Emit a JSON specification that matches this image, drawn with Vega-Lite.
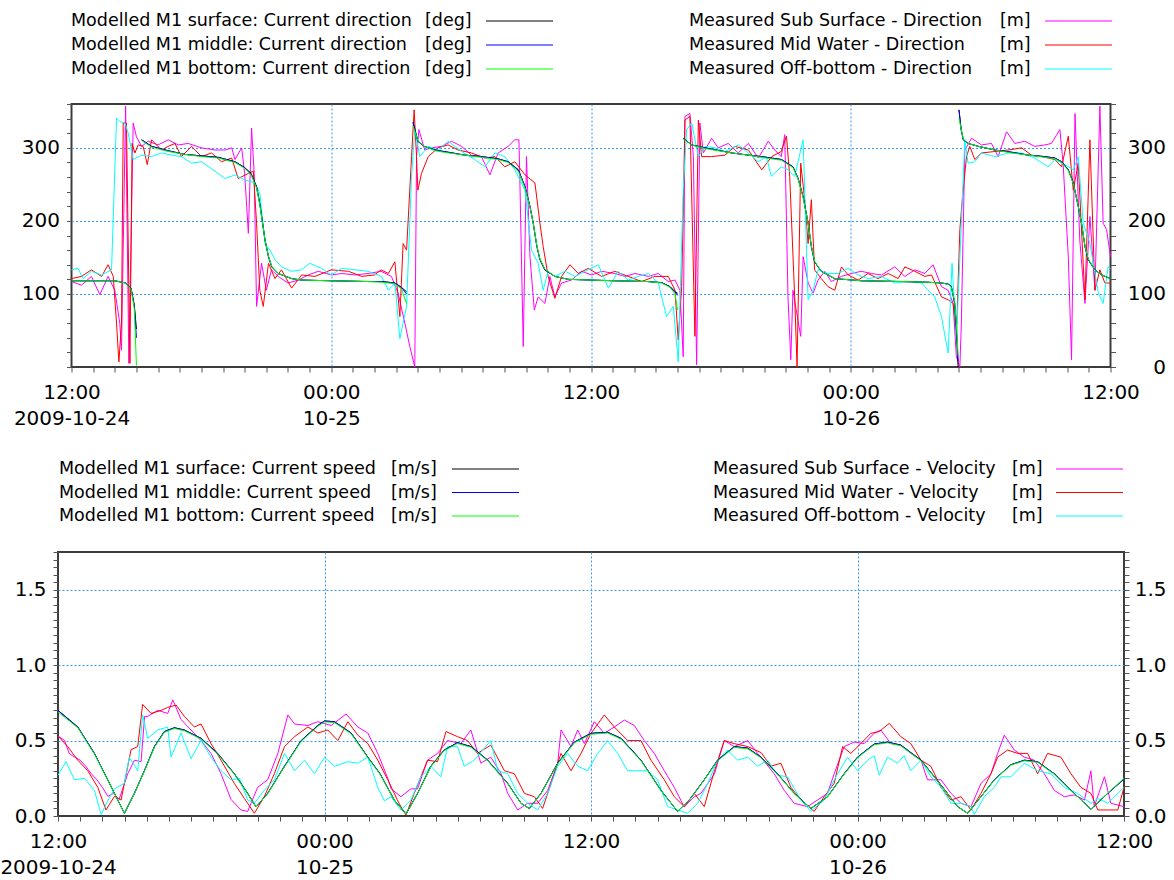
{
"$schema": "https://vega.github.io/schema/vega-lite/v6.json",
"padding": {"left": -2, "top": 0, "right": 0, "bottom": 0},
"background": "white",
"spacing": 25,
"bounds": "flush",
"center": true,
"resolve": {"scale": {"x": "independent", "y": "independent", "color": "independent"}},
"config": {
  "view": {"stroke": "#3c3c3c", "strokeWidth": 2},
  "axis": {"labelFont": "DejaVu Sans", "labelFontSize": 20, "labelColor": "#000000", "tickColor": "#555555", "tickSize": 5, "domain": false, "labelFlush": false, "labelOverlap": false, "labelBound": false, "gridColor": "#3399ff", "gridDash": [2, 2], "gridWidth": 1},
  "line": {"strokeWidth": 1}
},
"datasets": {
  "legDir": [
    {"c": "L", "r": 1, "s": "K", "t": "Modelled M1 surface: Current direction", "u": "[deg]"},
    {"c": "L", "r": 2, "s": "B", "t": "Modelled M1 middle: Current direction", "u": "[deg]"},
    {"c": "L", "r": 3, "s": "G", "t": "Modelled M1 bottom: Current direction", "u": "[deg]"},
    {"c": "R", "r": 1, "s": "M", "t": "Measured Sub Surface - Direction", "u": "[m]"},
    {"c": "R", "r": 2, "s": "R", "t": "Measured Mid Water - Direction", "u": "[m]"},
    {"c": "R", "r": 3, "s": "C", "t": "Measured Off-bottom - Direction", "u": "[m]"}
  ],
  "legSpd": [
    {"c": "L", "r": 1, "s": "K", "t": "Modelled M1 surface: Current speed", "u": "[m/s]"},
    {"c": "L", "r": 2, "s": "B", "t": "Modelled M1 middle: Current speed", "u": "[m/s]"},
    {"c": "L", "r": 3, "s": "G", "t": "Modelled M1 bottom: Current speed", "u": "[m/s]"},
    {"c": "R", "r": 1, "s": "M", "t": "Measured Sub Surface - Velocity", "u": "[m]"},
    {"c": "R", "r": 2, "s": "R", "t": "Measured Mid Water - Velocity", "u": "[m]"},
    {"c": "R", "r": 3, "s": "C", "t": "Measured Off-bottom - Velocity", "u": "[m]"}
  ],
  "dirMod": [
    {"h":0,"K":118,"B":118,"G":118},{"h":1,"K":118,"B":118,"G":118},{"h":2,"K":118,"B":118,"G":118},{"h":2.5,"K":115,"B":115,"G":115},{"h":2.75,"K":108,"B":108,"G":107},{"h":2.9,"K":85,"B":84,"G":80},{"h":3.0,"K":52,"B":40,"G":2},
    {"h":3.1,"K":null,"B":null,"G":null},
    {"h":3.24,"K":311,"B":311,"G":310},{"h":3.7,"K":302,"B":302,"G":301},{"h":4.47,"K":296,"B":296,"G":295},{"h":5.24,"K":291,"B":291,"G":291},{"h":6.0,"K":289,"B":289,"G":288},{"h":6.78,"K":287,"B":287,"G":286},{"h":7.55,"K":281,"B":281,"G":280},{"h":8.0,"K":273,"B":273,"G":272},{"h":8.3,"K":265,"B":264,"G":263},{"h":8.55,"K":247,"B":246,"G":245},{"h":8.7,"K":224,"B":223,"G":222},{"h":8.83,"K":197,"B":196,"G":196},{"h":8.94,"K":174,"B":174,"G":174},{"h":9.1,"K":151,"B":151,"G":152},{"h":9.25,"K":137,"B":137,"G":138},{"h":9.55,"K":128,"B":128,"G":128},{"h":10.17,"K":121,"B":121,"G":121},{"h":10.63,"K":119,"B":119,"G":119},{"h":12,"K":118,"B":118,"G":118},{"h":13.7,"K":117,"B":117,"G":117},{"h":14.32,"K":117,"B":117,"G":116},{"h":14.94,"K":115,"B":115,"G":114},{"h":15.24,"K":109,"B":109,"G":107},{"h":15.48,"K":103,"B":100,"G":87},
    {"h":15.6,"K":null,"B":null,"G":null},
    {"h":15.78,"K":335,"B":335,"G":330},{"h":16.0,"K":309,"B":309,"G":310},{"h":16.3,"K":302,"B":302,"G":302},{"h":16.8,"K":297,"B":297,"G":296},{"h":17.4,"K":294,"B":294,"G":293},{"h":18.17,"K":290,"B":290,"G":290},{"h":18.94,"K":288,"B":288,"G":287},{"h":19.7,"K":285,"B":285,"G":284},{"h":20.17,"K":281,"B":281,"G":280},{"h":20.64,"K":270,"B":270,"G":268},{"h":20.95,"K":247,"B":247,"G":245},{"h":21.18,"K":220,"B":220,"G":219},{"h":21.33,"K":197,"B":197,"G":197},{"h":21.5,"K":165,"B":165,"G":166},{"h":21.64,"K":147,"B":147,"G":148},{"h":21.87,"K":133,"B":133,"G":134},{"h":22.33,"K":124,"B":124,"G":124},{"h":22.95,"K":120,"B":120,"G":120},{"h":24,"K":119,"B":119,"G":119},{"h":25.1,"K":118,"B":118,"G":118},{"h":26.6,"K":117,"B":117,"G":117},{"h":27.26,"K":115.5,"B":115.5,"G":115},{"h":27.65,"K":110,"B":110,"G":109},{"h":27.88,"K":103,"B":103,"G":100},{"h":28.0,"K":101,"B":98,"G":78},
    {"h":28.1,"K":null,"B":null,"G":null},
    {"h":28.26,"K":313,"B":313,"G":312},{"h":28.65,"K":304,"B":304,"G":304},{"h":29.27,"K":300,"B":300,"G":299},{"h":30.5,"K":293,"B":293,"G":293},{"h":31.27,"K":290,"B":290,"G":290},{"h":31.87,"K":288,"B":288,"G":287},{"h":32.8,"K":284,"B":284,"G":283},{"h":33.33,"K":274,"B":274,"G":273},{"h":33.57,"K":258,"B":258,"G":257},{"h":33.8,"K":233,"B":233,"G":232},{"h":34.03,"K":197,"B":197,"G":197},{"h":34.18,"K":165,"B":165,"G":166},{"h":34.33,"K":144,"B":144,"G":145},{"h":34.64,"K":131,"B":131,"G":131},{"h":35.26,"K":121,"B":121,"G":121},{"h":36.5,"K":118,"B":118,"G":118},{"h":38.34,"K":117,"B":117,"G":117},{"h":39.57,"K":116,"B":116,"G":116},{"h":40.2,"K":115,"B":115,"G":115},{"h":40.5,"K":113.5,"B":113.5,"G":113},{"h":40.65,"K":110,"B":110,"G":109},{"h":40.8,"K":87,"B":88,"G":90},{"h":40.88,"K":51,"B":55,"G":60},{"h":40.96,"K":0,"B":8,"G":15},
    {"h":40.98,"K":null,"B":null,"G":null},
    {"h":41.0,"K":352,"B":352,"G":340},{"h":41.1,"K":325,"B":325,"G":326},{"h":41.2,"K":311,"B":311,"G":312},{"h":41.42,"K":306,"B":306,"G":306},{"h":41.9,"K":302,"B":302,"G":302},{"h":42.66,"K":297,"B":297,"G":297},{"h":43.43,"K":294,"B":294,"G":293},{"h":44.2,"K":290,"B":290,"G":290},{"h":44.97,"K":288,"B":288,"G":287},{"h":45.43,"K":286,"B":286,"G":285},{"h":45.74,"K":281,"B":281,"G":280},{"h":46.05,"K":270,"B":270,"G":269},{"h":46.28,"K":252,"B":252,"G":251},{"h":46.51,"K":220,"B":220,"G":220},{"h":46.66,"K":197,"B":197,"G":197},{"h":46.82,"K":165,"B":165,"G":166},{"h":46.97,"K":147,"B":147,"G":148},{"h":47.28,"K":133,"B":133,"G":133},{"h":47.59,"K":126,"B":126,"G":126},{"h":48,"K":121,"B":121,"G":121}
  ],
  "dirM": [
    {"h":0,"v":117},{"h":0.46,"v":112},{"h":0.92,"v":124},{"h":1.31,"v":99},{"h":1.69,"v":124},{"h":2.0,"v":105},{"h":2.23,"v":60},{"h":2.31,"v":23},{"h":2.5,"v":357},{"h":2.65,"v":5},{"h":2.85,"v":334},{"h":3.0,"v":315},{"h":3.24,"v":302},{"h":3.54,"v":309},{"h":4.0,"v":304},{"h":4.47,"v":311},{"h":4.93,"v":304},{"h":5.39,"v":306},{"h":6.0,"v":300},{"h":6.63,"v":297},{"h":7.1,"v":297},{"h":7.4,"v":300},{"h":7.55,"v":284},{"h":7.86,"v":300},{"h":8.0,"v":265},{"h":8.17,"v":183},{"h":8.32,"v":327},{"h":8.44,"v":265},{"h":8.55,"v":83},{"h":8.78,"v":142},{"h":9.0,"v":105},{"h":9.24,"v":133},{"h":9.55,"v":124},{"h":10.0,"v":115},{"h":10.48,"v":119},{"h":10.94,"v":126},{"h":11.4,"v":131},{"h":12.0,"v":126},{"h":12.48,"v":128},{"h":13.1,"v":126},{"h":13.7,"v":128},{"h":14.3,"v":131},{"h":14.78,"v":124},{"h":15.09,"v":101},{"h":15.4,"v":60},{"h":15.63,"v":28},{"h":15.86,"v":0},{"h":15.94,"v":288},{"h":16.05,"v":325},{"h":16.32,"v":297},{"h":16.63,"v":300},{"h":17.1,"v":302},{"h":17.56,"v":309},{"h":18.02,"v":302},{"h":18.48,"v":290},{"h":18.94,"v":288},{"h":19.33,"v":263},{"h":19.71,"v":293},{"h":20.17,"v":302},{"h":20.48,"v":311},{"h":20.67,"v":311},{"h":20.71,"v":261},{"h":20.87,"v":28},{"h":21.02,"v":288},{"h":21.18,"v":151},{"h":21.38,"v":78},{"h":21.56,"v":96},{"h":21.87,"v":87},{"h":22.1,"v":124},{"h":22.33,"v":96},{"h":22.64,"v":115},{"h":23.1,"v":119},{"h":23.56,"v":131},{"h":24.03,"v":126},{"h":24.49,"v":131},{"h":25.1,"v":128},{"h":25.57,"v":124},{"h":26.03,"v":128},{"h":26.65,"v":124},{"h":27.11,"v":128},{"h":27.57,"v":117},{"h":27.88,"v":119},{"h":28.11,"v":105},{"h":28.26,"v":14},{"h":28.34,"v":343},{"h":28.57,"v":347},{"h":28.73,"v":288},{"h":28.88,"v":3},{"h":29.03,"v":334},{"h":29.19,"v":293},{"h":29.57,"v":313},{"h":29.88,"v":300},{"h":30.34,"v":306},{"h":30.8,"v":293},{"h":31.27,"v":306},{"h":31.73,"v":286},{"h":32.19,"v":309},{"h":32.49,"v":297},{"h":32.79,"v":288},{"h":32.95,"v":318},{"h":33.1,"v":96},{"h":33.23,"v":10},{"h":33.33,"v":105},{"h":33.56,"v":64},{"h":33.69,"v":42},{"h":33.8,"v":151},{"h":34.03,"v":115},{"h":34.26,"v":101},{"h":34.49,"v":119},{"h":34.8,"v":131},{"h":35.1,"v":117},{"h":35.57,"v":124},{"h":36.03,"v":128},{"h":36.49,"v":131},{"h":36.95,"v":128},{"h":37.42,"v":126},{"h":38.03,"v":137},{"h":38.5,"v":124},{"h":38.96,"v":133},{"h":39.42,"v":128},{"h":39.8,"v":140},{"h":40.19,"v":110},{"h":40.5,"v":105},{"h":40.73,"v":87},{"h":40.88,"v":14},{"h":41.04,"v":0},{"h":41.11,"v":60},{"h":41.27,"v":297},{"h":41.58,"v":313},{"h":42.04,"v":304},{"h":42.5,"v":306},{"h":42.81,"v":288},{"h":43.2,"v":322},{"h":43.58,"v":306},{"h":44.04,"v":309},{"h":44.5,"v":302},{"h":44.97,"v":304},{"h":45.27,"v":306},{"h":45.66,"v":325},{"h":45.81,"v":279},{"h":46.05,"v":151},{"h":46.2,"v":10},{"h":46.36,"v":347},{"h":46.58,"v":174},{"h":46.82,"v":87},{"h":47.05,"v":206},{"h":47.28,"v":105},{"h":47.51,"v":357},{"h":47.66,"v":197},{"h":47.82,"v":188},{"h":48.0,"v":151}
  ],
  "dirR": [
    {"h":0,"v":121},{"h":0.46,"v":124},{"h":0.92,"v":133},{"h":1.39,"v":124},{"h":1.69,"v":140},{"h":1.93,"v":124},{"h":2.08,"v":60},{"h":2.19,"v":7},{"h":2.31,"v":60},{"h":2.39,"v":334},{"h":2.54,"v":334},{"h":2.7,"v":5},{"h":2.8,"v":306},{"h":2.93,"v":293},{"h":3.08,"v":304},{"h":3.31,"v":302},{"h":3.5,"v":277},{"h":3.7,"v":311},{"h":4.16,"v":297},{"h":4.47,"v":302},{"h":4.78,"v":306},{"h":5.08,"v":288},{"h":5.55,"v":302},{"h":6.0,"v":288},{"h":6.47,"v":293},{"h":6.93,"v":281},{"h":7.4,"v":286},{"h":7.7,"v":258},{"h":8.17,"v":265},{"h":8.4,"v":268},{"h":8.55,"v":197},{"h":8.7,"v":105},{"h":8.86,"v":83},{"h":9.1,"v":142},{"h":9.4,"v":121},{"h":9.7,"v":133},{"h":10.17,"v":108},{"h":10.63,"v":126},{"h":11.25,"v":124},{"h":12.0,"v":133},{"h":12.8,"v":131},{"h":13.4,"v":124},{"h":14.0,"v":126},{"h":14.3,"v":133},{"h":14.64,"v":128},{"h":14.94,"v":144},{"h":15.17,"v":69},{"h":15.32,"v":169},{"h":15.48,"v":160},{"h":15.71,"v":288},{"h":15.83,"v":352},{"h":15.94,"v":288},{"h":16.0,"v":242},{"h":16.17,"v":265},{"h":16.48,"v":288},{"h":16.94,"v":300},{"h":17.4,"v":304},{"h":17.86,"v":297},{"h":18.48,"v":293},{"h":19.1,"v":286},{"h":19.56,"v":288},{"h":20.02,"v":274},{"h":20.48,"v":281},{"h":20.95,"v":263},{"h":21.41,"v":252},{"h":21.64,"v":197},{"h":21.79,"v":165},{"h":22.02,"v":124},{"h":22.33,"v":94},{"h":22.64,"v":124},{"h":23.03,"v":140},{"h":23.41,"v":128},{"h":23.87,"v":135},{"h":24.49,"v":124},{"h":25.1,"v":131},{"h":25.72,"v":124},{"h":26.34,"v":117},{"h":26.95,"v":124},{"h":27.57,"v":124},{"h":27.88,"v":105},{"h":28.03,"v":37},{"h":28.19,"v":110},{"h":28.34,"v":338},{"h":28.57,"v":343},{"h":28.8,"v":42},{"h":28.96,"v":338},{"h":29.11,"v":288},{"h":29.57,"v":288},{"h":30.19,"v":290},{"h":30.65,"v":302},{"h":31.27,"v":297},{"h":31.89,"v":270},{"h":32.35,"v":288},{"h":32.79,"v":295},{"h":33.03,"v":316},{"h":33.18,"v":261},{"h":33.41,"v":96},{"h":33.52,"v":0},{"h":33.69,"v":279},{"h":33.87,"v":229},{"h":34.03,"v":169},{"h":34.18,"v":229},{"h":34.33,"v":133},{"h":34.64,"v":121},{"h":34.95,"v":110},{"h":35.26,"v":105},{"h":35.57,"v":137},{"h":35.88,"v":126},{"h":36.34,"v":119},{"h":36.8,"v":128},{"h":37.26,"v":121},{"h":37.73,"v":128},{"h":38.19,"v":121},{"h":38.5,"v":137},{"h":38.96,"v":131},{"h":39.42,"v":124},{"h":39.73,"v":126},{"h":40.19,"v":96},{"h":40.5,"v":92},{"h":40.73,"v":87},{"h":40.88,"v":42},{"h":41.04,"v":188},{"h":41.19,"v":242},{"h":41.35,"v":288},{"h":41.5,"v":302},{"h":41.73,"v":284},{"h":42.04,"v":293},{"h":42.66,"v":295},{"h":43.27,"v":297},{"h":43.89,"v":300},{"h":44.35,"v":290},{"h":44.81,"v":288},{"h":45.43,"v":284},{"h":45.74,"v":274},{"h":46.05,"v":316},{"h":46.28,"v":242},{"h":46.51,"v":279},{"h":46.82,"v":92},{"h":47.05,"v":311},{"h":47.28,"v":105},{"h":47.51,"v":133},{"h":47.74,"v":115},{"h":48.0,"v":115}
  ],
  "dirC": [
    {"h":0,"v":133},{"h":0.3,"v":135},{"h":0.54,"v":121},{"h":0.92,"v":131},{"h":1.39,"v":126},{"h":1.85,"v":133},{"h":2.08,"v":341},{"h":2.23,"v":336},{"h":2.47,"v":334},{"h":2.62,"v":320},{"h":2.85,"v":284},{"h":3.24,"v":290},{"h":3.7,"v":288},{"h":4.16,"v":293},{"h":4.62,"v":290},{"h":5.08,"v":288},{"h":5.55,"v":279},{"h":6.0,"v":281},{"h":6.63,"v":268},{"h":7.1,"v":258},{"h":7.55,"v":263},{"h":8.0,"v":256},{"h":8.47,"v":252},{"h":8.7,"v":238},{"h":8.94,"v":169},{"h":9.17,"v":160},{"h":9.4,"v":147},{"h":9.7,"v":137},{"h":10.17,"v":131},{"h":10.63,"v":133},{"h":11.0,"v":142},{"h":11.55,"v":135},{"h":12.0,"v":126},{"h":12.48,"v":135},{"h":13.1,"v":133},{"h":13.7,"v":131},{"h":14.32,"v":124},{"h":14.64,"v":105},{"h":14.94,"v":115},{"h":15.17,"v":39},{"h":15.48,"v":83},{"h":15.71,"v":261},{"h":15.86,"v":325},{"h":16.09,"v":288},{"h":16.48,"v":302},{"h":16.94,"v":297},{"h":17.4,"v":309},{"h":18.02,"v":295},{"h":18.63,"v":284},{"h":19.1,"v":274},{"h":19.56,"v":293},{"h":20.02,"v":288},{"h":20.48,"v":270},{"h":20.95,"v":242},{"h":21.25,"v":160},{"h":21.56,"v":142},{"h":21.79,"v":105},{"h":22.02,"v":131},{"h":22.33,"v":124},{"h":22.8,"v":131},{"h":23.26,"v":124},{"h":23.87,"v":133},{"h":24.34,"v":140},{"h":24.8,"v":108},{"h":25.26,"v":131},{"h":25.72,"v":119},{"h":26.19,"v":124},{"h":26.65,"v":128},{"h":27.11,"v":115},{"h":27.49,"v":69},{"h":27.8,"v":83},{"h":28.03,"v":7},{"h":28.26,"v":242},{"h":28.42,"v":325},{"h":28.65,"v":334},{"h":28.96,"v":288},{"h":29.27,"v":302},{"h":29.73,"v":300},{"h":30.19,"v":295},{"h":30.8,"v":304},{"h":31.27,"v":293},{"h":31.73,"v":281},{"h":32.1,"v":288},{"h":32.33,"v":261},{"h":32.79,"v":274},{"h":33.1,"v":270},{"h":33.41,"v":261},{"h":33.8,"v":311},{"h":34.03,"v":92},{"h":34.26,"v":105},{"h":34.49,"v":133},{"h":34.95,"v":128},{"h":35.41,"v":128},{"h":35.88,"v":135},{"h":36.34,"v":126},{"h":36.8,"v":121},{"h":37.42,"v":124},{"h":38.03,"v":115},{"h":38.65,"v":117},{"h":39.27,"v":115},{"h":39.57,"v":105},{"h":39.88,"v":96},{"h":40.19,"v":69},{"h":40.5,"v":19},{"h":40.68,"v":142},{"h":40.88,"v":37},{"h":41.11,"v":197},{"h":41.27,"v":311},{"h":41.42,"v":279},{"h":41.73,"v":281},{"h":42.04,"v":293},{"h":42.66,"v":288},{"h":43.27,"v":293},{"h":43.89,"v":293},{"h":44.5,"v":286},{"h":45.12,"v":274},{"h":45.43,"v":284},{"h":45.89,"v":277},{"h":46.28,"v":270},{"h":46.51,"v":288},{"h":46.74,"v":197},{"h":47.05,"v":169},{"h":47.44,"v":101},{"h":47.66,"v":87},{"h":47.89,"v":137},{"h":48.0,"v":135}
  ],
  "spdMod": [
    {"h":0,"K":0.70,"B":0.70,"G":0.69},{"h":0.89,"K":0.59,"B":0.59,"G":0.585},{"h":1.64,"K":0.415,"B":0.415,"G":0.41},{"h":2.24,"K":0.24,"B":0.24,"G":0.238},{"h":2.69,"K":0.106,"B":0.106,"G":0.105},{"h":2.99,"K":0.018,"B":0.018,"G":0.018},{"h":3.44,"K":0.15,"B":0.15,"G":0.148},{"h":3.89,"K":0.30,"B":0.30,"G":0.297},{"h":4.34,"K":0.46,"B":0.46,"G":0.455},{"h":4.79,"K":0.56,"B":0.56,"G":0.555},{"h":5.24,"K":0.585,"B":0.585,"G":0.58},{"h":5.69,"K":0.57,"B":0.57,"G":0.565},{"h":6.44,"K":0.515,"B":0.515,"G":0.51},{"h":7.19,"K":0.415,"B":0.415,"G":0.41},{"h":7.94,"K":0.28,"B":0.28,"G":0.277},{"h":8.54,"K":0.15,"B":0.15,"G":0.148},{"h":8.92,"K":0.06,"B":0.06,"G":0.06},{"h":9.44,"K":0.15,"B":0.15,"G":0.148},{"h":10.2,"K":0.33,"B":0.33,"G":0.327},{"h":10.95,"K":0.50,"B":0.50,"G":0.495},{"h":11.7,"K":0.60,"B":0.60,"G":0.595},{"h":12.0,"K":0.63,"B":0.63,"G":0.624},{"h":12.45,"K":0.625,"B":0.625,"G":0.619},{"h":13.2,"K":0.55,"B":0.55,"G":0.545},{"h":13.95,"K":0.39,"B":0.39,"G":0.386},{"h":14.5,"K":0.28,"B":0.28,"G":0.277},{"h":15.14,"K":0.106,"B":0.106,"G":0.105},{"h":15.67,"K":0.013,"B":0.013,"G":0.013},{"h":16.19,"K":0.15,"B":0.15,"G":0.148},{"h":16.79,"K":0.33,"B":0.33,"G":0.327},{"h":17.39,"K":0.437,"B":0.437,"G":0.433},{"h":17.99,"K":0.486,"B":0.486,"G":0.481},{"h":18.6,"K":0.46,"B":0.46,"G":0.455},{"h":19.35,"K":0.37,"B":0.37,"G":0.366},{"h":20.25,"K":0.216,"B":0.216,"G":0.214},{"h":20.85,"K":0.084,"B":0.084,"G":0.083},{"h":21.22,"K":0.05,"B":0.05,"G":0.05},{"h":21.75,"K":0.15,"B":0.15,"G":0.148},{"h":22.5,"K":0.35,"B":0.35,"G":0.346},{"h":23.25,"K":0.49,"B":0.49,"G":0.485},{"h":24.0,"K":0.548,"B":0.548,"G":0.542},{"h":24.75,"K":0.555,"B":0.555,"G":0.55},{"h":25.35,"K":0.515,"B":0.515,"G":0.51},{"h":26.25,"K":0.37,"B":0.37,"G":0.366},{"h":27.15,"K":0.17,"B":0.17,"G":0.168},{"h":27.9,"K":0.03,"B":0.03,"G":0.03},{"h":28.45,"K":0.11,"B":0.11,"G":0.109},{"h":29.1,"K":0.24,"B":0.24,"G":0.238},{"h":29.7,"K":0.37,"B":0.37,"G":0.366},{"h":30.45,"K":0.46,"B":0.46,"G":0.455},{"h":31.06,"K":0.45,"B":0.45,"G":0.445},{"h":31.65,"K":0.39,"B":0.39,"G":0.386},{"h":32.4,"K":0.28,"B":0.28,"G":0.277},{"h":33.15,"K":0.15,"B":0.15,"G":0.148},{"h":33.9,"K":0.05,"B":0.05,"G":0.05},{"h":34.65,"K":0.128,"B":0.128,"G":0.127},{"h":35.4,"K":0.28,"B":0.28,"G":0.277},{"h":36.0,"K":0.39,"B":0.39,"G":0.386},{"h":36.75,"K":0.477,"B":0.477,"G":0.472},{"h":37.35,"K":0.49,"B":0.49,"G":0.485},{"h":37.95,"K":0.47,"B":0.47,"G":0.465},{"h":38.86,"K":0.37,"B":0.37,"G":0.366},{"h":39.76,"K":0.205,"B":0.205,"G":0.203},{"h":40.51,"K":0.062,"B":0.062,"G":0.062},{"h":40.96,"K":0.018,"B":0.018,"G":0.018},{"h":41.56,"K":0.128,"B":0.128,"G":0.127},{"h":42.16,"K":0.24,"B":0.24,"G":0.238},{"h":42.91,"K":0.34,"B":0.34,"G":0.337},{"h":43.51,"K":0.37,"B":0.37,"G":0.366},{"h":44.11,"K":0.36,"B":0.36,"G":0.356},{"h":44.86,"K":0.28,"B":0.28,"G":0.277},{"h":45.76,"K":0.15,"B":0.15,"G":0.148},{"h":46.51,"K":0.045,"B":0.045,"G":0.045},{"h":47.27,"K":0.15,"B":0.15,"G":0.152},{"h":48.0,"K":0.245,"B":0.245,"G":0.25}
  ],
  "spdM": [
    {"h":0,"v":0.53},{"h":0.3,"v":0.5},{"h":0.5,"v":0.415},{"h":0.75,"v":0.39},{"h":1.0,"v":0.37},{"h":1.25,"v":0.33},{"h":1.5,"v":0.28},{"h":1.75,"v":0.24},{"h":2.0,"v":0.19},{"h":2.25,"v":0.13},{"h":2.5,"v":0.15},{"h":2.75,"v":0.11},{"h":3.14,"v":0.28},{"h":3.44,"v":0.37},{"h":3.74,"v":0.36},{"h":3.9,"v":0.66},{"h":4.04,"v":0.66},{"h":4.49,"v":0.7},{"h":4.94,"v":0.68},{"h":5.17,"v":0.77},{"h":5.54,"v":0.64},{"h":5.99,"v":0.57},{"h":6.44,"v":0.5},{"h":6.89,"v":0.415},{"h":7.34,"v":0.28},{"h":7.79,"v":0.11},{"h":8.24,"v":0.04},{"h":8.54,"v":0.03},{"h":8.99,"v":0.19},{"h":9.44,"v":0.24},{"h":9.9,"v":0.415},{"h":10.35,"v":0.67},{"h":10.65,"v":0.61},{"h":11.25,"v":0.6},{"h":11.7,"v":0.625},{"h":12.3,"v":0.6},{"h":12.97,"v":0.676},{"h":13.5,"v":0.59},{"h":13.95,"v":0.55},{"h":14.4,"v":0.415},{"h":14.85,"v":0.25},{"h":15.0,"v":0.18},{"h":15.44,"v":0.128},{"h":15.89,"v":0.18},{"h":16.19,"v":0.18},{"h":16.64,"v":0.37},{"h":17.09,"v":0.415},{"h":17.54,"v":0.5},{"h":18.14,"v":0.48},{"h":18.59,"v":0.57},{"h":19.04,"v":0.35},{"h":19.49,"v":0.39},{"h":19.95,"v":0.28},{"h":20.25,"v":0.15},{"h":20.7,"v":0.04},{"h":21.15,"v":0.084},{"h":21.6,"v":0.084},{"h":22.05,"v":0.17},{"h":22.5,"v":0.35},{"h":22.65,"v":0.57},{"h":23.1,"v":0.46},{"h":23.4,"v":0.57},{"h":23.7,"v":0.48},{"h":24.15,"v":0.625},{"h":24.6,"v":0.548},{"h":25.05,"v":0.59},{"h":25.5,"v":0.636},{"h":25.95,"v":0.6},{"h":26.4,"v":0.5},{"h":26.85,"v":0.415},{"h":27.3,"v":0.3},{"h":27.75,"v":0.19},{"h":28.2,"v":0.06},{"h":28.65,"v":0.128},{"h":28.95,"v":0.15},{"h":29.56,"v":0.28},{"h":30.0,"v":0.5},{"h":30.45,"v":0.46},{"h":31.06,"v":0.5},{"h":31.5,"v":0.415},{"h":32.25,"v":0.28},{"h":32.7,"v":0.17},{"h":33.15,"v":0.084},{"h":33.75,"v":0.062},{"h":34.2,"v":0.106},{"h":34.65,"v":0.15},{"h":34.95,"v":0.28},{"h":35.4,"v":0.46},{"h":35.85,"v":0.49},{"h":36.3,"v":0.48},{"h":36.75,"v":0.548},{"h":37.05,"v":0.57},{"h":37.5,"v":0.48},{"h":37.95,"v":0.47},{"h":38.4,"v":0.415},{"h":38.86,"v":0.37},{"h":39.15,"v":0.24},{"h":39.76,"v":0.24},{"h":40.21,"v":0.15},{"h":40.66,"v":0.084},{"h":41.11,"v":0.062},{"h":41.56,"v":0.216},{"h":42.01,"v":0.28},{"h":42.31,"v":0.415},{"h":42.61,"v":0.536},{"h":43.06,"v":0.437},{"h":43.51,"v":0.39},{"h":43.96,"v":0.37},{"h":44.41,"v":0.28},{"h":44.86,"v":0.17},{"h":45.31,"v":0.128},{"h":45.76,"v":0.14},{"h":46.22,"v":0.106},{"h":46.51,"v":0.3},{"h":46.66,"v":0.062},{"h":47.12,"v":0.26},{"h":47.41,"v":0.084},{"h":48.0,"v":0.062}
  ],
  "spdR": [
    {"h":0,"v":0.53},{"h":0.44,"v":0.46},{"h":0.89,"v":0.37},{"h":1.34,"v":0.3},{"h":1.79,"v":0.19},{"h":2.16,"v":0.04},{"h":2.54,"v":0.13},{"h":2.84,"v":0.106},{"h":3.29,"v":0.44},{"h":3.59,"v":0.46},{"h":3.81,"v":0.74},{"h":4.19,"v":0.68},{"h":4.64,"v":0.7},{"h":4.94,"v":0.72},{"h":5.32,"v":0.735},{"h":5.69,"v":0.66},{"h":6.14,"v":0.59},{"h":6.44,"v":0.61},{"h":6.89,"v":0.48},{"h":7.34,"v":0.37},{"h":7.94,"v":0.216},{"h":8.39,"v":0.117},{"h":8.84,"v":0.018},{"h":9.29,"v":0.128},{"h":9.74,"v":0.28},{"h":10.2,"v":0.46},{"h":10.65,"v":0.526},{"h":11.25,"v":0.59},{"h":11.7,"v":0.55},{"h":12.15,"v":0.57},{"h":12.6,"v":0.5},{"h":13.05,"v":0.625},{"h":13.5,"v":0.536},{"h":13.95,"v":0.48},{"h":14.4,"v":0.37},{"h":14.85,"v":0.24},{"h":15.3,"v":0.1},{"h":15.44,"v":0.062},{"h":15.67,"v":0.007},{"h":16.04,"v":0.15},{"h":16.64,"v":0.37},{"h":17.09,"v":0.36},{"h":17.47,"v":0.56},{"h":17.99,"v":0.526},{"h":18.44,"v":0.5},{"h":18.89,"v":0.415},{"h":19.49,"v":0.47},{"h":20.1,"v":0.3},{"h":20.55,"v":0.28},{"h":21.0,"v":0.15},{"h":21.45,"v":0.128},{"h":21.82,"v":0.05},{"h":22.2,"v":0.216},{"h":22.65,"v":0.415},{"h":23.1,"v":0.3},{"h":23.55,"v":0.415},{"h":24.0,"v":0.548},{"h":24.6,"v":0.67},{"h":25.05,"v":0.59},{"h":25.65,"v":0.5},{"h":26.25,"v":0.5},{"h":26.7,"v":0.37},{"h":27.3,"v":0.24},{"h":27.75,"v":0.128},{"h":28.2,"v":0.062},{"h":28.65,"v":0.15},{"h":29.1,"v":0.062},{"h":29.56,"v":0.3},{"h":30.0,"v":0.5},{"h":30.45,"v":0.48},{"h":31.06,"v":0.46},{"h":31.66,"v":0.42},{"h":32.1,"v":0.33},{"h":32.55,"v":0.35},{"h":33.0,"v":0.19},{"h":33.45,"v":0.106},{"h":34.05,"v":0.03},{"h":34.5,"v":0.128},{"h":34.95,"v":0.216},{"h":35.33,"v":0.46},{"h":35.7,"v":0.415},{"h":36.15,"v":0.48},{"h":36.6,"v":0.548},{"h":36.98,"v":0.56},{"h":37.43,"v":0.614},{"h":37.95,"v":0.526},{"h":38.4,"v":0.48},{"h":38.86,"v":0.37},{"h":39.3,"v":0.33},{"h":39.76,"v":0.19},{"h":40.21,"v":0.106},{"h":40.66,"v":0.128},{"h":41.11,"v":0.04},{"h":41.56,"v":0.15},{"h":42.01,"v":0.28},{"h":42.31,"v":0.39},{"h":42.76,"v":0.437},{"h":43.21,"v":0.415},{"h":43.66,"v":0.415},{"h":44.11,"v":0.28},{"h":44.56,"v":0.415},{"h":45.16,"v":0.39},{"h":45.61,"v":0.28},{"h":46.06,"v":0.19},{"h":46.51,"v":0.15},{"h":46.82,"v":0.04},{"h":47.27,"v":0.04},{"h":47.72,"v":0.04},{"h":48.0,"v":0.19}
  ],
  "spdC": [
    {"h":0,"v":0.27},{"h":0.36,"v":0.36},{"h":0.74,"v":0.24},{"h":1.19,"v":0.25},{"h":1.64,"v":0.17},{"h":1.94,"v":0.01},{"h":2.24,"v":0.1},{"h":2.54,"v":0.18},{"h":2.99,"v":0.216},{"h":3.21,"v":0.39},{"h":3.59,"v":0.3},{"h":3.81,"v":0.67},{"h":4.04,"v":0.515},{"h":4.49,"v":0.57},{"h":4.94,"v":0.59},{"h":5.09,"v":0.39},{"h":5.54,"v":0.55},{"h":5.99,"v":0.38},{"h":6.44,"v":0.5},{"h":6.89,"v":0.39},{"h":7.34,"v":0.3},{"h":7.79,"v":0.24},{"h":8.17,"v":0.25},{"h":8.54,"v":0.106},{"h":8.84,"v":0.084},{"h":9.29,"v":0.17},{"h":9.74,"v":0.24},{"h":10.2,"v":0.415},{"h":10.65,"v":0.3},{"h":11.1,"v":0.37},{"h":11.55,"v":0.28},{"h":12.0,"v":0.39},{"h":12.45,"v":0.33},{"h":13.05,"v":0.36},{"h":13.5,"v":0.35},{"h":13.95,"v":0.39},{"h":14.4,"v":0.19},{"h":14.7,"v":0.1},{"h":14.99,"v":0.128},{"h":15.44,"v":0.04},{"h":15.89,"v":0.106},{"h":16.34,"v":0.26},{"h":16.79,"v":0.33},{"h":17.24,"v":0.26},{"h":17.54,"v":0.46},{"h":17.99,"v":0.46},{"h":18.29,"v":0.33},{"h":18.74,"v":0.37},{"h":19.49,"v":0.5},{"h":19.8,"v":0.3},{"h":20.25,"v":0.28},{"h":20.7,"v":0.15},{"h":21.15,"v":0.084},{"h":21.6,"v":0.04},{"h":22.05,"v":0.15},{"h":22.5,"v":0.33},{"h":22.95,"v":0.415},{"h":23.4,"v":0.33},{"h":23.85,"v":0.3},{"h":24.3,"v":0.415},{"h":24.75,"v":0.5},{"h":25.2,"v":0.415},{"h":25.65,"v":0.3},{"h":26.1,"v":0.3},{"h":26.55,"v":0.3},{"h":27.0,"v":0.24},{"h":27.45,"v":0.062},{"h":27.9,"v":0.04},{"h":28.35,"v":0.018},{"h":28.8,"v":0.084},{"h":29.26,"v":0.216},{"h":29.7,"v":0.37},{"h":30.15,"v":0.437},{"h":30.6,"v":0.37},{"h":31.06,"v":0.39},{"h":31.5,"v":0.33},{"h":31.96,"v":0.37},{"h":32.4,"v":0.27},{"h":32.85,"v":0.26},{"h":33.45,"v":0.106},{"h":33.9,"v":0.03},{"h":34.5,"v":0.106},{"h":34.95,"v":0.24},{"h":35.55,"v":0.39},{"h":36.0,"v":0.3},{"h":36.45,"v":0.37},{"h":36.75,"v":0.4},{"h":36.98,"v":0.27},{"h":37.35,"v":0.39},{"h":37.8,"v":0.35},{"h":38.1,"v":0.4},{"h":38.4,"v":0.3},{"h":38.86,"v":0.37},{"h":39.3,"v":0.26},{"h":39.76,"v":0.19},{"h":40.21,"v":0.084},{"h":40.66,"v":0.084},{"h":41.11,"v":0.062},{"h":41.26,"v":0.01},{"h":41.71,"v":0.128},{"h":42.16,"v":0.19},{"h":42.46,"v":0.26},{"h":42.91,"v":0.26},{"h":43.51,"v":0.35},{"h":44.11,"v":0.3},{"h":44.71,"v":0.28},{"h":45.31,"v":0.19},{"h":45.91,"v":0.15},{"h":46.51,"v":0.084},{"h":46.82,"v":0.117},{"h":47.27,"v":0.084},{"h":48.0,"v":0.19}
  ]
},
"vconcat": [
  {
    "width": 1066, "height": 79,
    "view": {"stroke": null},
    "data": {"name": "legDir"},
    "encoding": {"y": {"field": "r", "type": "ordinal", "scale": {"type": "point", "range": [21, 69], "padding": 0}, "axis": null}},
    "layer": [
      {"mark": {"type": "text", "align": "left", "baseline": "middle", "font": "DejaVu Sans", "fontSize": 17.5, "color": "#000000"},
       "encoding": {"x": {"field": "c", "type": "nominal", "scale": {"type": "point", "range": [13, 631], "padding": 0}, "axis": null}, "text": {"field": "t"}}},
      {"mark": {"type": "text", "align": "left", "baseline": "middle", "font": "DejaVu Sans", "fontSize": 17.5, "color": "#000000"},
       "encoding": {"x": {"field": "c", "type": "nominal", "scale": {"type": "point", "range": [367, 942], "padding": 0}, "axis": null}, "text": {"field": "u"}}},
      {"mark": {"type": "rule", "strokeWidth": 1, "x2Offset": 67},
       "encoding": {"x": {"field": "c", "type": "nominal", "scale": {"type": "point", "range": [428, 987], "padding": 0}, "axis": null}, "x2": {"field": "c"},
         "color": {"field": "s", "type": "nominal", "scale": {"domain": ["K","B","G","M","R","C"], "range": ["#000000","#0000ff","#00ff00","#ff00ff","#ff0000","#00ffff"]}, "legend": null}}}
    ],
    "resolve": {"scale": {"x": "independent"}}
  },
  {
    "width": 1039, "height": 263,
    "encoding": {"x": {"field": "h", "type": "quantitative", "scale": {"domain": [0, 48], "nice": false, "zero": false},
      "axis": {"title": null, "values": [0,1,2,3,4,5,6,7,8,9,10,11,12,13,14,15,16,17,18,19,20,21,22,23,24,25,26,27,28,29,30,31,32,33,34,35,36,37,38,39,40,41,42,43,44,45,46,47,48],
        "grid": true, "gridOpacity": {"condition": {"test": "datum.value % 12 == 0 && datum.value > 0 && datum.value < 48", "value": 1}, "value": 0},
        "labelExpr": "datum.value == 0 ? ['12:00', '2009-10-24'] : datum.value == 12 ? ['00:00', '10-25'] : (datum.value == 24 || datum.value == 48) ? '12:00' : datum.value == 36 ? ['00:00', '10-26'] : ''",
        "labelLineHeight": 26, "labelPadding": 10, "labelFlush": false, "labelOverlap": false}}},
    "layer": [
      {"data": {"name": "dirM"}, "mark": {"type": "line", "color": "#ff00ff", "strokeWidth": 1},
       "encoding": {"y": {"field": "v", "type": "quantitative", "scale": {"domain": [0, 360], "nice": false},
         "axis": {"orient": "left", "title": null, "values": [0,20,40,60,80,100,120,140,160,180,200,220,240,260,280,300,320,340,360],
           "labelExpr": "(datum.value % 100 == 0 && datum.value > 0) ? datum.label : ''", "labelPadding": 7,
           "grid": true, "gridOpacity": {"condition": {"test": "datum.value % 100 == 0 && datum.value > 0", "value": 1}, "value": 0}}}}},
      {"data": {"name": "dirR"}, "mark": {"type": "line", "color": "#ff0000", "strokeWidth": 1},
       "encoding": {"y": {"field": "v", "type": "quantitative", "scale": {"domain": [0, 360], "nice": false},
         "axis": {"orient": "right", "title": null, "values": [0,20,40,60,80,100,120,140,160,180,200,220,240,260,280,300,320,340,360],
           "labelExpr": "datum.value % 100 == 0 ? datum.label : ''", "labelAlign": "right", "labelPadding": 50, "grid": false}}}},
      {"data": {"name": "dirC"}, "mark": {"type": "line", "color": "#00ffff", "strokeWidth": 1},
       "encoding": {"y": {"field": "v", "type": "quantitative", "scale": {"domain": [0, 360], "nice": false}, "axis": null}}},
      {"data": {"name": "dirMod"}, "mark": {"type": "line", "color": "#000000", "strokeWidth": 1},
       "encoding": {"y": {"field": "K", "type": "quantitative", "scale": {"domain": [0, 360], "nice": false}, "axis": null}}},
      {"data": {"name": "dirMod"}, "mark": {"type": "line", "color": "#0000ff", "strokeWidth": 1},
       "encoding": {"y": {"field": "B", "type": "quantitative", "scale": {"domain": [0, 360], "nice": false}, "axis": null}}},
      {"data": {"name": "dirMod"}, "mark": {"type": "line", "color": "#00ff00", "strokeWidth": 1},
       "encoding": {"y": {"field": "G", "type": "quantitative", "scale": {"domain": [0, 360], "nice": false}, "axis": null}}}
    ],
    "resolve": {"axis": {"y": "independent"}}
  },
  {
    "width": 1066, "height": 135,
    "view": {"stroke": null},
    "data": {"name": "legSpd"},
    "encoding": {"y": {"field": "r", "type": "ordinal", "scale": {"type": "point", "range": [77, 124], "padding": 0}, "axis": null}},
    "layer": [
      {"mark": {"type": "text", "align": "left", "baseline": "middle", "font": "DejaVu Sans", "fontSize": 17.5, "color": "#000000"},
       "encoding": {"x": {"field": "c", "type": "nominal", "scale": {"type": "point", "range": [1, 655], "padding": 0}, "axis": null}, "text": {"field": "t"}}},
      {"mark": {"type": "text", "align": "left", "baseline": "middle", "font": "DejaVu Sans", "fontSize": 17.5, "color": "#000000"},
       "encoding": {"x": {"field": "c", "type": "nominal", "scale": {"type": "point", "range": [333, 954], "padding": 0}, "axis": null}, "text": {"field": "u"}}},
      {"mark": {"type": "rule", "strokeWidth": 1, "x2Offset": 67},
       "encoding": {"x": {"field": "c", "type": "nominal", "scale": {"type": "point", "range": [394, 998], "padding": 0}, "axis": null}, "x2": {"field": "c"},
         "color": {"field": "s", "type": "nominal", "scale": {"domain": ["K","B","G","M","R","C"], "range": ["#000000","#0000ff","#00ff00","#ff00ff","#ff0000","#00ffff"]}, "legend": null}}}
    ],
    "resolve": {"scale": {"x": "independent"}}
  },
  {
    "width": 1066, "height": 264,
    "encoding": {"x": {"field": "h", "type": "quantitative", "scale": {"domain": [0, 48], "nice": false, "zero": false},
      "axis": {"title": null, "values": [0,1,2,3,4,5,6,7,8,9,10,11,12,13,14,15,16,17,18,19,20,21,22,23,24,25,26,27,28,29,30,31,32,33,34,35,36,37,38,39,40,41,42,43,44,45,46,47,48],
        "grid": true, "gridOpacity": {"condition": {"test": "datum.value % 12 == 0 && datum.value > 0 && datum.value < 48", "value": 1}, "value": 0},
        "labelExpr": "datum.value == 0 ? ['12:00', '2009-10-24'] : datum.value == 12 ? ['00:00', '10-25'] : (datum.value == 24 || datum.value == 48) ? '12:00' : datum.value == 36 ? ['00:00', '10-26'] : ''",
        "labelLineHeight": 26, "labelPadding": 10, "labelFlush": false, "labelOverlap": false}}},
    "layer": [
      {"data": {"name": "spdM"}, "mark": {"type": "line", "color": "#ff00ff", "strokeWidth": 1},
       "encoding": {"y": {"field": "v", "type": "quantitative", "scale": {"domain": [0, 1.75], "nice": false},
         "axis": {"orient": "left", "title": null, "values": [0,0.05,0.1,0.15,0.2,0.25,0.3,0.35,0.4,0.45,0.5,0.55,0.6,0.65,0.7,0.75,0.8,0.85,0.9,0.95,1,1.05,1.1,1.15,1.2,1.25,1.3,1.35,1.4,1.45,1.5,1.55,1.6,1.65,1.7,1.75],
           "labelExpr": "indexof([0, 0.5, 1, 1.5], datum.value) >= 0 ? format(datum.value, '.1f') : ''", "labelPadding": 7,
           "grid": true, "gridOpacity": {"condition": {"test": "indexof([0.5, 1, 1.5], datum.value) >= 0", "value": 1}, "value": 0}}}}},
      {"data": {"name": "spdR"}, "mark": {"type": "line", "color": "#ff0000", "strokeWidth": 1},
       "encoding": {"y": {"field": "v", "type": "quantitative", "scale": {"domain": [0, 1.75], "nice": false},
         "axis": {"orient": "right", "title": null, "values": [0,0.05,0.1,0.15,0.2,0.25,0.3,0.35,0.4,0.45,0.5,0.55,0.6,0.65,0.7,0.75,0.8,0.85,0.9,0.95,1,1.05,1.1,1.15,1.2,1.25,1.3,1.35,1.4,1.45,1.5,1.55,1.6,1.65,1.7,1.75],
           "labelExpr": "indexof([0, 0.5, 1, 1.5], datum.value) >= 0 ? format(datum.value, '.1f') : ''", "labelAlign": "right", "labelPadding": 37, "grid": false}}}},
      {"data": {"name": "spdC"}, "mark": {"type": "line", "color": "#00ffff", "strokeWidth": 1},
       "encoding": {"y": {"field": "v", "type": "quantitative", "scale": {"domain": [0, 1.75], "nice": false}, "axis": null}}},
      {"data": {"name": "spdMod"}, "mark": {"type": "line", "color": "#000000", "strokeWidth": 1},
       "encoding": {"y": {"field": "K", "type": "quantitative", "scale": {"domain": [0, 1.75], "nice": false}, "axis": null}}},
      {"data": {"name": "spdMod"}, "mark": {"type": "line", "color": "#0000ff", "strokeWidth": 1},
       "encoding": {"y": {"field": "B", "type": "quantitative", "scale": {"domain": [0, 1.75], "nice": false}, "axis": null}}},
      {"data": {"name": "spdMod"}, "mark": {"type": "line", "color": "#00ff00", "strokeWidth": 1},
       "encoding": {"y": {"field": "G", "type": "quantitative", "scale": {"domain": [0, 1.75], "nice": false}, "axis": null}}}
    ],
    "resolve": {"axis": {"y": "independent"}}
  }
]
}
